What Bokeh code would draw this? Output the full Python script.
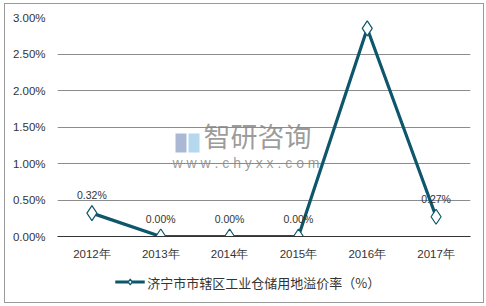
from bokeh.plotting import figure
from bokeh.layouts import column
from bokeh.models import (ColumnDataSource, Range1d, FixedTicker, NumeralTickFormatter,
                          Legend, LegendItem, Label, LabelSet, BoxAnnotation, Spacer)
from bokeh.core.properties import value
from bokeh.embed import file_html
from bokeh.resources import INLINE

years = ["2012年", "2013年", "2014年", "2015年", "2016年", "2017年"]
rates = [0.0032, 0.0, 0.0, 0.0, 0.0285, 0.0027]
labels = ["0.32%", "0.00%", "0.00%", "0.00%", "2.85%", "0.27%"]
y_ticks = [0.0, 0.005, 0.01, 0.015, 0.02, 0.025, 0.03]
series_name = "济宁市市辖区工业仓储用地溢价率（%）"

FONT = "Liberation Sans"
TEAL = "#0d566b"

src = ColumnDataSource(dict(x=years, y=rates, lab=labels))

p = figure(width=478, height=263, x_range=years, y_range=Range1d(0, 0.03),
           output_backend="svg", toolbar_location=None,
           min_border_left=52, min_border_right=13, min_border_top=13, min_border_bottom=31)
p.outline_line_color = None
p.background_fill_color = "white"
p.border_fill_color = "white"

p.yaxis.ticker = FixedTicker(ticks=y_ticks)
p.yaxis.formatter = NumeralTickFormatter(format="0.00%")
p.yaxis.axis_line_color = None
p.yaxis.major_tick_line_color = None
p.yaxis.minor_tick_line_color = None
p.yaxis.major_label_text_font = FONT
p.yaxis.major_label_text_font_size = "11.5px"
p.yaxis.major_label_text_color = "#333333"
p.yaxis.major_label_standoff = 6

p.xaxis.axis_line_color = "#333333"
p.xaxis.axis_line_width = 1
p.xaxis.major_tick_line_color = None
p.xaxis.minor_tick_line_color = None
p.xaxis.major_label_text_font = FONT
p.xaxis.major_label_text_font_size = "11.5px"
p.xaxis.major_label_text_color = "#333333"
p.xaxis.major_label_standoff = 5

p.xgrid.grid_line_color = None
p.ygrid.grid_line_color = "#8c8c8c"
p.ygrid.grid_line_width = 1

# watermark
p.add_layout(BoxAnnotation(left=118, right=129, bottom=84, top=103,
                           left_units="screen", right_units="screen",
                           bottom_units="screen", top_units="screen",
                           fill_color="#8ea0c6", fill_alpha=0.75, line_color=None))
p.add_layout(BoxAnnotation(left=131, right=142, bottom=84, top=103,
                           left_units="screen", right_units="screen",
                           bottom_units="screen", top_units="screen",
                           fill_color="#9ccbea", fill_alpha=0.75, line_color=None))
p.add_layout(Label(x=146, y=82, x_units="screen", y_units="screen", text="智研咨询",
                   text_font="Noto Sans CJK SC", text_font_size="27px",
                   text_color="#8a8a8a", text_alpha=0.85))
p.add_layout(Label(x=115, y=66, x_units="screen", y_units="screen", text="w w w . c h y x x . c o m",
                   text_font=FONT, text_font_size="14px",
                   text_color="#8a8a8a", text_alpha=0.85))

line = p.line("x", "y", source=src, line_color=TEAL, line_width=3.2)
pts = p.scatter("x", "y", source=src, marker="diamond", size=15,
                fill_color="white", line_color=TEAL, line_width=1.2)

p.add_layout(LabelSet(x="x", y="y", text="lab", source=src, x_offset=0, y_offset=12,
                      text_align="center", text_baseline="bottom",
                      text_font=value(FONT), text_font_size="10.5px", text_color="#333333"))

# legend strip: same series drawn out of its visible range, only its legend shows
q = figure(width=478, height=29, x_range=years, y_range=Range1d(1, 2),
           x_axis_type=None, y_axis_type=None, output_backend="svg",
           toolbar_location=None, min_border_left=0, min_border_right=0,
           min_border_top=0, min_border_bottom=0)
q.outline_line_color = None
q.xgrid.grid_line_color = None
q.ygrid.grid_line_color = None
q.border_fill_color = "white"
q.background_fill_color = "white"
lline = q.line("x", "y", source=src, line_color=TEAL, line_width=3.2)
lpts = q.scatter("x", "y", source=src, marker="diamond", size=11,
                 fill_color="white", line_color=TEAL, line_width=1.2)
legend = Legend(items=[LegendItem(label=series_name + "\u3000\u3000\u3000", renderers=[lline, lpts])],
                orientation="horizontal", location="center",
                label_text_font="Noto Sans CJK SC", label_text_font_size="13px",
                label_text_color="#333333", glyph_width=30, glyph_height=14,
                border_line_color=None, background_fill_alpha=0,
                padding=0, margin=0, label_standoff=3)
q.add_layout(legend)

layout = column(p, q, Spacer(width=478, height=6), spacing=0,
                styles={"margin-left": "4px", "margin-top": "3px", "border": "1px solid #9a9a9a"})

open("out.html", "w").write(file_html(layout, INLINE))
